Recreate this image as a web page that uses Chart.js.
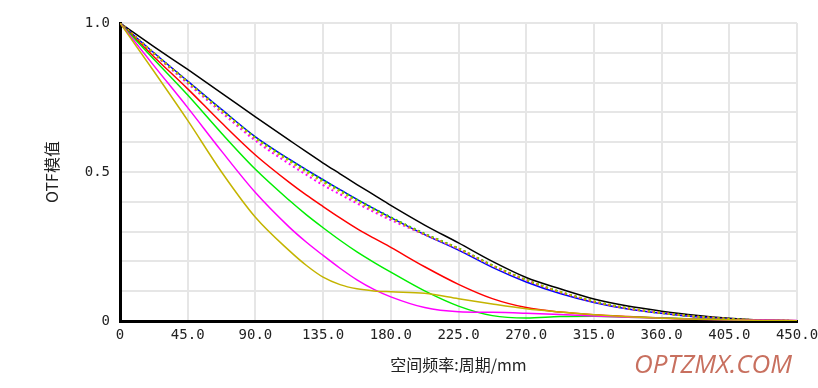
<!DOCTYPE html>
<html>
<head>
<meta charset="utf-8">
<script src="https://cdn.jsdelivr.net/npm/chart.js@4.4.1/dist/chart.umd.min.js"></script>
<style>
  html, body { margin: 0; padding: 0; background: #fff; }
  #wrap { width: 818px; height: 388px; position: relative; }
</style>
</head>
<body>
<div id="wrap"><canvas id="otf-chart" width="818" height="388"></canvas></div>
<script>
// 空间频率 (周期/mm)
const freqs = [0, 22.5, 45, 67.5, 90, 112.5, 123.75, 135, 146.25, 157.5, 168.75, 180, 202.5, 225, 247.5, 270, 292.5, 315, 337.5, 360, 382.5, 405, 427.5, 450];

// 衍射极限
const diffLimit  = [1.0, 0.921, 0.844, 0.765, 0.685, 0.607, 0.568, 0.530, 0.494, 0.458, 0.423, 0.388, 0.322, 0.262, 0.200, 0.146, 0.108, 0.074, 0.050, 0.033, 0.019, 0.009, 0.003, 0.0];
// 轴上视场
const fieldBlue  = [1.0, 0.900, 0.805, 0.710, 0.618, 0.543, 0.508, 0.474, 0.441, 0.408, 0.377, 0.347, 0.290, 0.238, 0.180, 0.131, 0.092, 0.062, 0.040, 0.026, 0.014, 0.006, 0.002, 0.0];
// 子午 (实线)
const tanRed     = [1.0, 0.887, 0.779, 0.665, 0.557, 0.465, 0.423, 0.384, 0.346, 0.310, 0.278, 0.247, 0.182, 0.123, 0.075, 0.045, 0.030, 0.021, 0.015, 0.010, 0.007, 0.004, 0.002, 0.001];
const tanGreen   = [1.0, 0.878, 0.758, 0.630, 0.509, 0.405, 0.357, 0.313, 0.271, 0.232, 0.197, 0.164, 0.101, 0.050, 0.018, 0.010, 0.015, 0.016, 0.013, 0.010, 0.007, 0.004, 0.002, 0.001];
const tanMagenta = [1.0, 0.857, 0.716, 0.570, 0.431, 0.315, 0.265, 0.220, 0.177, 0.138, 0.106, 0.081, 0.045, 0.031, 0.029, 0.026, 0.022, 0.017, 0.013, 0.009, 0.006, 0.004, 0.003, 0.002];
const tanYellow  = [1.0, 0.838, 0.673, 0.500, 0.348, 0.236, 0.187, 0.147, 0.122, 0.108, 0.101, 0.098, 0.093, 0.075, 0.057, 0.041, 0.030, 0.021, 0.014, 0.009, 0.006, 0.004, 0.002, 0.001];
// 弧矢 (点线)
const sagMagenta = [1.0, 0.896, 0.797, 0.700, 0.605, 0.527, 0.491, 0.456, 0.425, 0.395, 0.366, 0.339, 0.290, 0.242, 0.186, 0.137, 0.097, 0.065, 0.042, 0.027, 0.015, 0.007, 0.002, 0.0];
const sagRed     = [1.0, 0.899, 0.803, 0.707, 0.615, 0.540, 0.505, 0.471, 0.438, 0.406, 0.376, 0.347, 0.292, 0.243, 0.186, 0.137, 0.097, 0.065, 0.042, 0.027, 0.015, 0.007, 0.002, 0.0];
const sagGreen   = [1.0, 0.899, 0.803, 0.708, 0.616, 0.541, 0.506, 0.472, 0.439, 0.407, 0.377, 0.348, 0.293, 0.244, 0.187, 0.138, 0.098, 0.066, 0.043, 0.027, 0.015, 0.007, 0.002, 0.0];
const sagYellow  = [1.0, 0.898, 0.801, 0.705, 0.612, 0.536, 0.500, 0.466, 0.434, 0.402, 0.372, 0.344, 0.291, 0.243, 0.186, 0.138, 0.098, 0.066, 0.043, 0.027, 0.015, 0.007, 0.002, 0.0];

const pts = arr => arr.map((v, i) => ({ x: freqs[i], y: v }));

function line(data, color, dotted) {
    return {
        data: pts(data),
        borderColor: color,
        borderWidth: dotted ? 2 : 1.5,
        borderDash: dotted ? [2, 3] : [],
        pointRadius: 0,
        fill: false,
        cubicInterpolationMode: 'monotone',
    };
}

const datasets = [
    line(tanYellow, '#c4b400', false),
    line(tanMagenta, '#ff00ff', false),
    line(tanGreen, '#00ee00', false),
    line(tanRed, '#ff0000', false),
    line(sagYellow, '#c4b400', true),
    line(sagGreen, '#00ee00', true),
    line(sagRed, '#ff0000', true),
    line(sagMagenta, '#ff00ff', true),
    line(fieldBlue, '#0000ff', false),
    line(diffLimit, '#000000', false),
];

const watermark = {
    id: 'watermark',
    afterDraw(chart) {
        const c = chart.ctx;
        c.save();
        c.font = 'italic 26px "Open Sans", "DejaVu Sans", sans-serif';
        c.fillStyle = '#c8705f';
        c.textAlign = 'right';
        c.textBaseline = 'alphabetic';
        c.fillText('OPTZMX.COM', 792, 373);
        c.restore();
    }
};

const monoFont = { family: '"DejaVu Sans Mono", monospace', size: 14 };

new Chart(document.getElementById('otf-chart').getContext('2d'), {
    type: 'line',
    data: { datasets: datasets },
    plugins: [watermark],
    options: {
        responsive: false,
        animation: false,
        layout: { padding: { top: 23, right: 21, left: 0, bottom: 0 } },
        plugins: { legend: { display: false }, tooltip: { enabled: false } },
        scales: {
            x: {
                type: 'linear',
                min: 0, max: 450,
                afterFit: s => { s.height = 67; s.paddingRight = 0; s.paddingLeft = 0; },
                ticks: {
                    stepSize: 45,
                    color: '#222',
                    font: monoFont,
                    padding: 6,
                    maxRotation: 0,
                    callback: v => v === 0 ? '0' : v.toFixed(1),
                },
                grid: { color: '#e6e6e6', lineWidth: 2, drawTicks: false },
                border: { color: '#000', width: 3 },
                title: {
                    display: true,
                    text: '空间频率:周期/mm',
                    color: '#222',
                    font: { family: '"Noto Sans CJK SC", sans-serif', size: 16 },
                    padding: { top: 0, bottom: 13 },
                },
            },
            y: {
                min: 0, max: 1,
                afterFit: s => { s.width = 120; },
                ticks: {
                    stepSize: 0.1,
                    color: '#222',
                    font: monoFont,
                    padding: 10,
                    autoSkip: false,
                    callback: v => {
                        const r = Math.round(v * 10);
                        if (r === 0) return '0';
                        if (r === 5) return '0.5';
                        if (r === 10) return '1.0';
                        return '';
                    },
                },
                grid: { color: '#e6e6e6', lineWidth: 2, drawTicks: false },
                border: { color: '#000', width: 3 },
                title: {
                    display: true,
                    text: 'OTF模值',
                    color: '#222',
                    font: { family: '"Noto Sans CJK SC", sans-serif', size: 16 },
                    padding: { top: 42, bottom: 0 },
                },
            },
        },
    },
});
</script>
</body>
</html>
